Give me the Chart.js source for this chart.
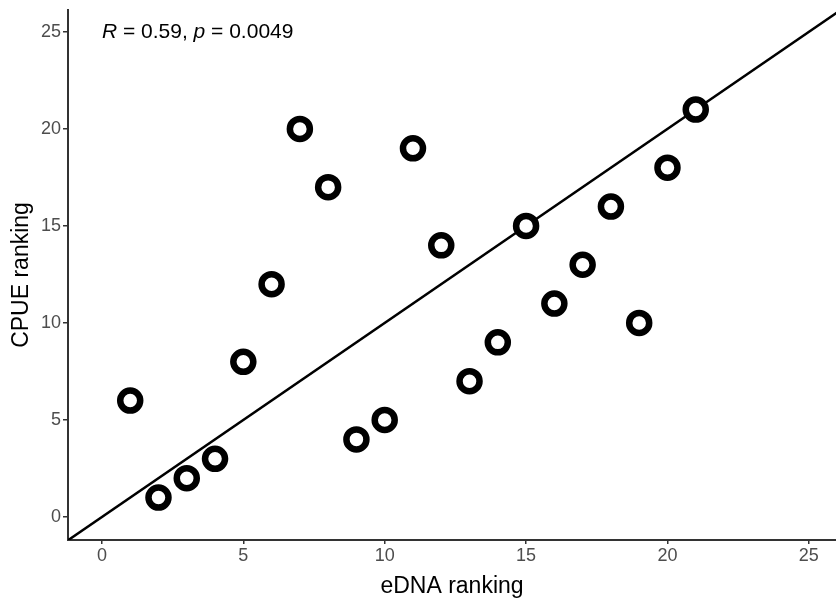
<!DOCTYPE html>
<html>
<head>
<meta charset="utf-8">
<script src="https://cdn.jsdelivr.net/npm/chart.js@4.4.1/dist/chart.umd.min.js"></script>
<style>
  html, body { margin: 0; padding: 0; background: #fff; overflow: hidden; }
  canvas { display: block; }
</style>
</head>
<body>
<canvas id="chart_edna_cpue" width="836" height="600"></canvas>
<script>
// eDNA ranking vs CPUE ranking
var ednaRank = [1, 2, 3, 4, 5, 6, 7, 8, 9, 10, 11, 12, 13, 14, 15, 16, 17, 18, 19, 20, 21];
var cpueRank = [6, 1, 2, 3, 8, 12, 20, 17, 4, 5, 19, 14, 7, 9, 15, 11, 13, 16, 10, 18, 21];
var tickValues = [0, 5, 10, 15, 20, 25];
var refLineX = [-1.2, 26];   // 1:1 line
var statLabel = [['R', true], [' = 0.59, ', false], ['p', true], [' = 0.0049', false]];

var FONT = "'Liberation Sans', Arial, sans-serif";

var points = ednaRank.map(function (x, i) { return {x: x, y: cpueRank[i]}; });
var refLine = refLineX.map(function (v) { return {x: v, y: v}; });

var chart_edna_cpue = new Chart(document.getElementById('chart_edna_cpue'), {
    type: 'scatter',
    data: {
        datasets: [
            {
                type: 'line',
                label: '1:1',
                data: refLine,
                borderColor: '#000',
                borderWidth: 2.5,
                pointRadius: 0,
                fill: false,
                order: 2
            },
            {
                label: 'ranking',
                data: points,
                pointRadius: 10,
                pointBorderWidth: 6.5,
                pointBackgroundColor: '#fff',
                pointBorderColor: '#000',
                pointHoverRadius: 10,
                order: 1
            }
        ]
    },
    options: {
        animation: false,
        responsive: false,
        maintainAspectRatio: false,
        layout: { autoPadding: false, padding: { top: 10, right: 0, left: 0, bottom: 0 } },
        plugins: {
            legend: { display: false },
            tooltip: { enabled: false }
        },
        scales: {
            x: {
                type: 'linear',
                min: -1.2,
                max: 25.96,
                afterBuildTicks: function (scale) {
                    scale.ticks = tickValues.map(function (v) { return {value: v}; });
                },
                afterFit: function (scale) {
                    scale.height = 60;
                    scale.paddingLeft = 0;
                    scale.paddingRight = 0;
                },
                grid: { drawOnChartArea: false, drawTicks: true, tickLength: 4, color: '#333', lineWidth: 1.5 },
                border: { display: true, color: '#333', width: 2 },
                ticks: { color: '#4d4d4d', font: { family: FONT, size: 18 }, padding: 1 },
                title: {
                    display: true,
                    text: 'eDNA ranking',
                    color: '#000',
                    font: { family: FONT, size: 23 },
                    padding: { top: 4, bottom: 0 }
                }
            },
            y: {
                type: 'linear',
                min: -1.186,
                max: 26.13,
                afterBuildTicks: function (scale) {
                    scale.ticks = tickValues.map(function (v) { return {value: v}; });
                },
                afterFit: function (scale) {
                    scale.width = 68;
                    scale.paddingTop = 0;
                    scale.paddingBottom = 0;
                },
                grid: { drawOnChartArea: false, drawTicks: true, tickLength: 5, color: '#333', lineWidth: 1.5 },
                border: { display: true, color: '#333', width: 2 },
                ticks: { color: '#4d4d4d', font: { family: FONT, size: 18 }, padding: 2 },
                title: {
                    display: true,
                    text: 'CPUE ranking',
                    color: '#000',
                    font: { family: FONT, size: 23 },
                    padding: { top: 8, bottom: 4 }
                }
            }
        }
    },
    plugins: [{
        id: 'statText',
        afterDatasetsDraw: function (chart) {
            var ctx = chart.ctx;
            var x = chart.scales.x.getPixelForValue(0);
            var y = chart.scales.y.getPixelForValue(25);
            ctx.save();
            ctx.fillStyle = '#000';
            ctx.textBaseline = 'middle';
            ctx.textAlign = 'left';
            statLabel.forEach(function (part) {
                ctx.font = (part[1] ? 'italic ' : '') + '21px ' + FONT;
                ctx.fillText(part[0], x, y);
                x += ctx.measureText(part[0]).width;
            });
            ctx.restore();
        }
    }, {
        id: 'whiteBg',
        beforeDraw: function (chart) {
            var ctx = chart.canvas.getContext('2d');
            ctx.save();
            ctx.globalCompositeOperation = 'destination-over';
            ctx.fillStyle = 'white';
            ctx.fillRect(0, 0, chart.canvas.width, chart.canvas.height);
            ctx.restore();
        }
    }]
});
</script>
</body>
</html>
